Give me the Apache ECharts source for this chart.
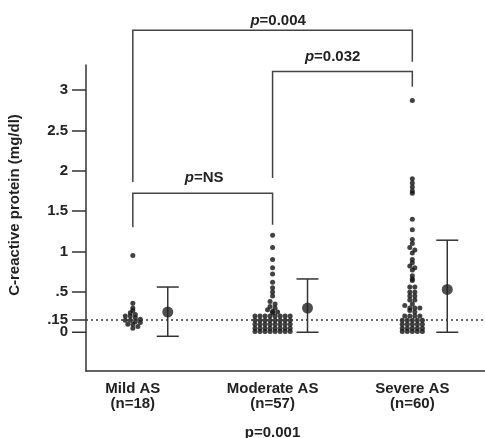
<!DOCTYPE html>
<html>
<head>
<meta charset="utf-8">
<script src="https://cdn.jsdelivr.net/npm/echarts@6/dist/echarts.min.js"></script>
<style>
  html, body { margin: 0; padding: 0; background: #fff; }
  #chart { width: 485px; height: 438px; }
</style>
</head>
<body>
<div id="chart"></div>
<script>
// CRP by aortic stenosis severity

const groups = ['Mild AS', 'Moderate AS', 'Severe AS'];
const groupN = ['(n=18)', '(n=57)', '(n=60)'];
const groupNote = ['', 'p=0.001', ''];

const mildValues = [0.95, 0.36, 0.30, 0.27, 0.24, 0.22, 0.20, 0.20, 0.18, 0.16, 0.15, 0.15,
    0.13, 0.12, 0.10, 0.10, 0.07, 0.05];
const moderateValues = [1.20, 1.05, 0.90, 0.80, 0.72, 0.62, 0.55, 0.50, 0.45,
    0.38, 0.35, 0.32, 0.30, 0.28, 0.26, 0.25, 0.24,
    0.20, 0.20, 0.20, 0.20, 0.20, 0.20, 0.20, 0.20,
    0.15, 0.15, 0.15, 0.15, 0.15, 0.15, 0.15, 0.15,
    0.10, 0.10, 0.10, 0.10, 0.10, 0.10, 0.10, 0.10,
    0.05, 0.05, 0.05, 0.05, 0.05, 0.05, 0.05, 0.05,
    0.01, 0.01, 0.01, 0.01, 0.01, 0.01, 0.01, 0.01];
const severeValues = [2.87,
    1.90, 1.85, 1.80, 1.75, 1.72,
    1.40, 1.27, 1.15, 1.10, 1.05, 1.02, 0.98,
    0.90, 0.86, 0.82, 0.80, 0.77,
    0.70, 0.66, 0.64,
    0.56, 0.56, 0.50, 0.50, 0.45, 0.45, 0.40, 0.40,
    0.35, 0.33, 0.30, 0.30, 0.30, 0.27, 0.25,
    0.20, 0.20, 0.20, 0.20,
    0.15, 0.15, 0.15, 0.15, 0.15,
    0.10, 0.10, 0.10, 0.10, 0.10,
    0.05, 0.05, 0.05, 0.05, 0.05,
    0.01, 0.01, 0.01, 0.01, 0.01];

// mean and error bar ends
const means = [0.25, 0.30, 0.53];
const barLow = [-0.05, 0.0, 0.0];
const barHigh = [0.56, 0.66, 1.14];

const yTicks = [0, 0.15, 0.5, 1, 1.5, 2, 2.5, 3];
const cutoff = 0.15;

// brackets: groups joined, foot heights, top, p text and its spot
const bracketFrom = [0, 1, 0];
const bracketTo = [2, 2, 1];
const bracketLeftFoot = [1.86, 1.91, 1.30];
const bracketRightFoot = [3.35, 3.04, 1.33];
const bracketTop = [3.74, 3.23, 1.72];
const bracketText = ['0.004', '0.032', 'NS'];
const bracketTextX = [1.04, 1.43, 0.51];
const bracketTextY = [3.86, 3.41, 1.91];

const allValues = [mildValues, moderateValues, severeValues];

// simple dot-swarm: stack points of similar value side by side
function swarm(values, center) {
    const bins = {};
    values.forEach(v => {
        const k = Math.round(v / 0.045);
        (bins[k] = bins[k] || []).push(v);
    });
    const out = [];
    Object.keys(bins).forEach(k => {
        const b = bins[k];
        b.forEach((v, i) => out.push([center + (i - (b.length - 1) / 2) * 0.036, v]));
    });
    return out;
}

const dotData = [];
allValues.forEach((vals, g) => swarm(vals, g).forEach(p => dotData.push(p)));

const meanOffset = 0.25;
const meanData = means.map((m, g) => [g + meanOffset, m]);
const barData = means.map((m, g) => [g + meanOffset, barLow[g], barHigh[g]]);
const bracketData = bracketText.map((t, i) => [bracketFrom[i], bracketTo[i], bracketLeftFoot[i],
    bracketRightFoot[i], bracketTop[i], bracketTextX[i], bracketTextY[i], i]);

const ink = '#222';
const font = 'Liberation Sans, Arial, sans-serif';
const xMin = -0.335;

function fmtTick(v) {
    const r = Math.round(v * 100) / 100;
    return r === 0 ? '0' : (r < 1 ? String(r).replace(/^0/, '') : String(r));
}

const chart = echarts.init(document.getElementById('chart'));
chart.setOption({
    animation: false,
    backgroundColor: '#fff',
    grid: { left: 86, right: 0, top: 65, bottom: 67, outerBoundsMode: 'none', containLabel: false },
    xAxis: {
        type: 'value',
        min: xMin,
        max: 2.52,
        axisLine: { onZero: false, lineStyle: { color: '#333', width: 1.5 } },
        axisTick: { show: false },
        splitLine: { show: false },
        axisLabel: {
            customValues: [0, 1, 2],
            margin: 10,
            color: ink,
            fontFamily: font,
            fontWeight: 'bold',
            fontSize: 15,
            lineHeight: 15,
            hideOverlap: false,
            formatter: v => {
                const g = Math.round(v);
                let s = groups[g] + '\n' + groupN[g];
                if (groupNote[g]) s += '\n{note|' + groupNote[g] + '}';
                return s;
            },
            rich: { note: { fontSize: 15, fontWeight: 'bold', fontFamily: font, color: ink, lineHeight: 43 } }
        }
    },
    yAxis: {
        type: 'value',
        min: -0.48,
        max: 3.31,
        axisLine: { show: true, onZero: false, lineStyle: { color: '#333', width: 1.5 } },
        axisTick: { show: true, customValues: yTicks.slice(1), length: 14, lineStyle: { color: '#333', width: 1.5 } },
        splitLine: { show: false },
        axisLabel: {
            customValues: yTicks.slice(1),
            margin: 18,
            color: ink,
            fontFamily: font,
            fontWeight: 'bold',
            fontSize: 15,
            hideOverlap: false,
            formatter: fmtTick
        }
    },
    series: [
        {
            type: 'scatter',
            data: dotData,
            symbolSize: 5,
            itemStyle: { color: '#111' },
            markLine: {
                silent: true,
                symbol: 'none',
                label: { show: false },
                lineStyle: { color: '#333', type: [2, 3], width: 1.5 },
                data: [{ yAxis: cutoff }]
            },
            z: 3
        },
        {
            type: 'custom',
            data: barData,
            renderItem: (params, api) => {
                const x = api.value(0);
                const lo = api.coord([x, api.value(1)]);
                const hi = api.coord([x, api.value(2)]);
                const w = 11;
                const st = { stroke: '#333', lineWidth: 1.5 };
                return {
                    type: 'group',
                    children: [
                        { type: 'line', shape: { x1: lo[0], y1: lo[1], x2: hi[0], y2: hi[1] }, style: st },
                        { type: 'line', shape: { x1: lo[0] - w, y1: lo[1], x2: lo[0] + w, y2: lo[1] }, style: st },
                        { type: 'line', shape: { x1: hi[0] - w, y1: hi[1], x2: hi[0] + w, y2: hi[1] }, style: st }
                    ]
                };
            },
            z: 2
        },
        {
            type: 'scatter',
            data: meanData,
            symbolSize: 11,
            itemStyle: { color: ink },
            z: 4
        },
        {
            type: 'custom',
            data: bracketData,
            clip: false,
            renderItem: (params, api) => {
                const x1 = api.value(0), x2 = api.value(1);
                const a = api.coord([x1, api.value(2)]);
                const b = api.coord([x1, api.value(4)]);
                const c = api.coord([x2, api.value(4)]);
                const d = api.coord([x2, api.value(3)]);
                const t = api.coord([api.value(5), api.value(6)]);
                return {
                    type: 'group',
                    children: [
                        {
                            type: 'polyline',
                            shape: { points: [a, b, c, d] },
                            style: { stroke: '#444', lineWidth: 1.5, fill: null }
                        },
                        {
                            type: 'text',
                            x: t[0],
                            y: t[1],
                            style: {
                                text: '{i|p}=' + bracketText[api.value(7)],
                                fill: ink,
                                font: 'bold 15px ' + font,
                                align: 'center',
                                verticalAlign: 'middle',
                                rich: { i: { fontStyle: 'italic', fontWeight: 'bold', fontSize: 15, fontFamily: font, fill: ink } }
                            }
                        }
                    ]
                };
            },
            z: 1
        }
    ]
});

// zero tick + label drawn by hand (the axis drops it), placed through the axis scale
const zero = chart.convertToPixel({ gridIndex: 0 }, [xMin, yTicks[0]]);
chart.setOption({
    graphic: [
        {
            type: 'text',
            x: 15,
            y: 205,
            rotation: Math.PI / 2,
            style: {
                text: 'C-reactive protein (mg/dl)',
                fill: ink,
                font: 'bold 15px ' + font,
                align: 'center',
                verticalAlign: 'middle'
            }
        },
        {
            type: 'line',
            shape: { x1: zero[0] - 14, y1: zero[1], x2: zero[0], y2: zero[1] },
            style: { stroke: '#333', lineWidth: 1.5 }
        },
        {
            type: 'text',
            x: zero[0] - 18,
            y: zero[1],
            style: {
                text: fmtTick(yTicks[0]),
                fill: ink,
                font: 'bold 15px ' + font,
                align: 'right',
                verticalAlign: 'middle'
            }
        }
    ]
});
</script>
</body>
</html>
